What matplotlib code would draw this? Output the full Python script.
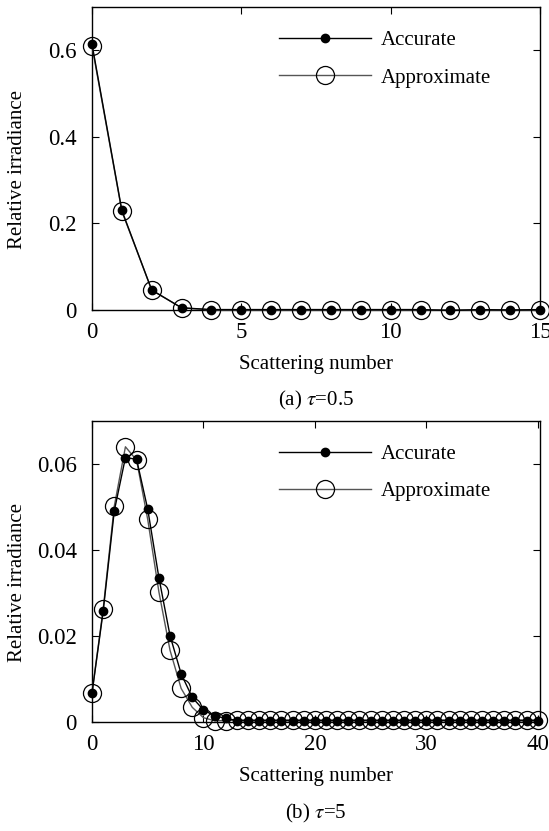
import numpy as np
import matplotlib
matplotlib.use("Agg")
import matplotlib.pyplot as plt

plt.rcParams['font.family'] = ['Liberation Serif', 'DejaVu Serif']
plt.rcParams['mathtext.fontset'] = 'stix'

# ---- data: panel (a) tau = 0.5 ----
x_a = list(range(16))
acc_a = [0.614, 0.230, 0.046, 0.005, 0.001, 0.001, 0.001, 0.001, 0.001, 0.001,
         0.001, 0.001, -0.001, 0.001, 0.000, 0.001]
app_a = [0.610, 0.228, 0.046, 0.005, 0.000, 0.000, 0.000, 0.000, 0.000, 0.000,
         0.000, 0.000, 0.000, 0.000, 0.000, 0.000]

# ---- data: panel (b) tau = 5 ----
x_b = list(range(41))
acc_b = [0.0067, 0.0257, 0.0491, 0.0615, 0.0611, 0.0495, 0.0336, 0.0201, 0.0112,
         0.0057, 0.0028, 0.0014, 0.0009] + [0.0003] * 28
app_b = [0.0068, 0.0262, 0.0502, 0.0640, 0.0609, 0.0471, 0.0303, 0.0167, 0.0078,
         0.0034, 0.0010, 0.0003, 0.0003] + [0.0005] * 28

xticks_a = [0, 5, 10, 15]
yticks_a = [0, 0.2, 0.4, 0.6]
yticklabels_a = ['0', '0.2', '0.4', '0.6']
xticks_b = [0, 10, 20, 30, 40]
yticks_b = [0, 0.02, 0.04, 0.06]
yticklabels_b = ['0', '0.02', '0.04', '0.06']

FS = 15
TFS = 16.5

fig = plt.figure(figsize=(5.49, 8.31), dpi=100)
ax1 = fig.add_axes([92/549, 1-310/831, 448/549, 303/831])
ax2 = fig.add_axes([92/549, 1-722/831, 448/549, 301/831])


def draw(ax, x, acc, app, xlim, ylim, xt, yt, ytl, caption, cap_y):
    ax.plot(x, app, '-', color='#555555', lw=1.0, marker='o', ms=13,
            mfc='none', mec='black', mew=0.9, clip_on=False, zorder=3,
            label='Approximate')
    ax.plot(x, acc, '-', color='black', lw=1.0, marker='o', ms=6,
            mfc='black', mec='black', clip_on=False, zorder=4,
            label='Accurate')
    ax.set_xlim(*xlim)
    ax.set_ylim(*ylim)
    ax.set_xticks(xt)
    ax.set_xticklabels([str(v) for v in xt])
    ax.set_yticks(yt)
    ax.set_yticklabels(ytl)
    ax.tick_params(direction='in', top=True, right=True, length=5,
                   width=0.8, labelsize=TFS)
    ax.tick_params(axis='x', pad=9)
    ax.tick_params(axis='y', pad=11)
    for s in ax.spines.values():
        s.set_linewidth(1.0)
    ax.set_xlabel('Scattering number', fontsize=FS)
    ax.xaxis.set_label_coords(0.5, -0.148)
    ax.set_ylabel('Relative irradiance', fontsize=FS)
    ax.yaxis.set_label_coords(-0.145, 0.465)
    h, l = ax.get_legend_handles_labels()
    ax.legend(h[::-1], l[::-1], loc='upper left', frameon=False,
              fontsize=FS, handlelength=4.4, handletextpad=0.45,
              labelspacing=0.85, borderaxespad=0.0, borderpad=0.0,
              bbox_to_anchor=(0.418, 0.922))
    ax.text(0.5, cap_y, caption, transform=ax.transAxes, ha='center',
            va='center', fontsize=FS)


draw(ax1, x_a, acc_a, app_a, (0, 15), (0, 0.7), xticks_a, yticks_a,
     yticklabels_a, r'(a) $\tau$=0.5', -0.297)
draw(ax2, x_b, acc_b, app_b, (0, 40.2), (0, 0.07), xticks_b, yticks_b,
     yticklabels_b, r'(b) $\tau$=5', -0.305)

fig.savefig('out.png', dpi=100)
